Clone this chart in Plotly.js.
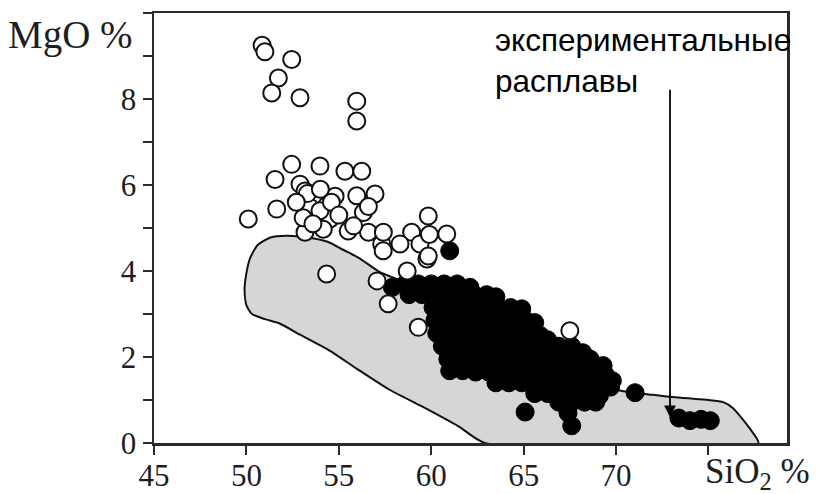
<!DOCTYPE html>
<html>
<head>
<meta charset="utf-8">
<script src="https://cdn.plot.ly/plotly-3.0.1.min.js"></script>
<style>
  html, body { margin: 0; padding: 0; background: #ffffff; }
  #chart { width: 821px; height: 494px; }
</style>
</head>
<body>
<div id="chart"></div>
<script>
// Outline of the field of experimental melts (SiO2 %, MgO %)
const fieldSiO2 = [62.9, 77.7, 77.3, 76.8, 76.3, 75.8, 75.0, 73.5, 72.0, 70.2, 68.5, 66.5, 64.5, 62.5, 60.5, 58.5,
  57.2, 56.1, 55.2, 54.4, 53.3, 52.2, 51.3, 50.6, 50.2, 50.0, 49.9, 50.0, 50.3, 51.0, 51.8, 52.9, 54.5, 56.0, 57.7,
  59.5, 61.5, 62.9];
const fieldMgO = [0.0, 0.0, 0.3, 0.58, 0.82, 0.95, 1.0, 1.05, 1.12, 1.22, 1.5, 1.95, 2.45, 2.9, 3.35, 3.75,
  3.98, 4.3, 4.5, 4.68, 4.78, 4.82, 4.78, 4.6, 4.3, 3.95, 3.55, 3.2, 3.0, 2.88, 2.78, 2.52, 2.15, 1.72, 1.25,
  0.85, 0.38, 0.0];

// Open circles
const openSiO2 = [50.85, 51.0, 52.45, 51.73, 51.37, 52.9, 55.97, 55.97,
  52.45, 53.98, 55.33, 56.24, 51.55, 52.9, 55.97, 56.96, 51.64, 50.1, 53.44, 54.34, 53.8, 54.52, 56.33,
  53.17, 54.16, 55.51, 56.6, 57.32, 54.34, 57.07, 57.67, 59.3, 58.7, 59.77, 67.5,
  59.84, 60.84, 58.94, 58.31, 59.39, 57.41, 57.4, 59.84, 53.17, 54.8, 53.98, 53.07, 59.9,
  53.3, 54.0, 54.6, 55.0, 53.6, 55.8, 56.6, 52.7];
const openMgO = [9.25, 9.1, 8.92, 8.49, 8.14, 8.03, 7.95, 7.49,
  6.48, 6.44, 6.32, 6.32, 6.13, 6.02, 5.75, 5.79, 5.44, 5.21, 5.48, 5.52, 5.17, 5.21, 5.36,
  4.9, 4.97, 4.93, 4.9, 4.63, 3.93, 3.77, 3.24, 2.69, 4.0, 4.28, 2.61,
  5.28, 4.86, 4.9, 4.63, 4.63, 4.9, 4.47, 4.35, 5.86, 5.74, 5.4, 5.24, 4.85,
  5.8, 5.9, 5.6, 5.3, 5.1, 5.05, 5.5, 5.6];

// Filled circles
const meltSiO2 = [61.0,
  57.9, 58.6, 59.3, 60.0, 60.7, 61.4, 62.1,
  58.8, 59.5, 60.2, 60.9, 61.6, 62.3, 63.0, 63.5,
  60.1, 60.8, 61.5, 62.2, 62.9, 63.6, 64.3, 64.9,
  60.2, 60.9, 61.6, 62.3, 63.0, 63.7, 64.4, 65.1, 65.6,
  60.3, 61.0, 61.7, 62.4, 63.1, 63.8, 64.5, 65.2, 65.9, 66.3,
  60.6, 61.3, 62.0, 62.7, 63.4, 64.1, 64.8, 65.5, 66.2, 66.9, 67.6, 68.2,
  60.9, 61.6, 62.3, 63.0, 63.7, 64.4, 65.1, 65.8, 66.5, 67.2, 67.9, 68.6, 69.3,
  61.0, 61.7, 62.4, 63.1, 63.8, 64.5, 65.2, 65.9, 66.6, 67.3, 68.0, 68.7, 69.4, 69.8,
  63.5, 64.2, 64.9, 65.6, 66.3, 67.0, 67.7, 68.4, 69.1, 69.7,
  65.6, 66.3, 67.0, 67.7, 68.4, 69.1,
  66.9, 67.6, 68.3, 68.9,
  67.4, 67.6,
  65.08, 71.03, 73.4, 74.0, 74.6, 75.1];
const meltMgO = [4.47,
  3.62, 3.7, 3.7, 3.7, 3.7, 3.7, 3.62,
  3.45, 3.45, 3.45, 3.45, 3.45, 3.45, 3.45, 3.4,
  3.15, 3.15, 3.15, 3.15, 3.15, 3.15, 3.15, 3.12,
  2.85, 2.85, 2.85, 2.85, 2.85, 2.85, 2.85, 2.85, 2.8,
  2.55, 2.55, 2.55, 2.55, 2.55, 2.55, 2.55, 2.55, 2.5, 2.4,
  2.25, 2.25, 2.25, 2.25, 2.25, 2.25, 2.25, 2.25, 2.25, 2.25, 2.25, 2.1,
  1.95, 1.95, 1.95, 1.95, 1.95, 1.95, 1.95, 1.95, 1.95, 1.95, 1.95, 1.95, 1.8,
  1.68, 1.68, 1.65, 1.65, 1.65, 1.65, 1.65, 1.65, 1.65, 1.65, 1.65, 1.65, 1.6, 1.45,
  1.4, 1.4, 1.4, 1.4, 1.4, 1.4, 1.4, 1.4, 1.4, 1.3,
  1.15, 1.15, 1.15, 1.15, 1.15, 1.1,
  0.95, 0.95, 0.95, 0.95,
  0.7, 0.4,
  0.72, 1.17, 0.58, 0.52, 0.55, 0.52];

const xTicks = [45, 50, 55, 60, 65, 70, 75];
const xTickText = ['45', '50', '55', '60', '65', '70', ''];
const yTicks = [0, 1, 2, 3, 4, 5, 6, 7, 8, 9, 10];
const yTickText = ['0', '', '2', '', '4', '', '6', '', '8', '', ''];

const serif = 'Liberation Serif, Times New Roman, serif';
const ink = '#1e1e1e';

const traces = [
  {
    type: 'scatter', mode: 'lines',
    x: fieldSiO2, y: fieldMgO,
    fill: 'toself', fillcolor: '#d6d6d6',
    line: { color: '#111', width: 2, shape: 'spline', smoothing: 0.6 },
    hoverinfo: 'skip'
  },
  {
    type: 'scatter', mode: 'markers',
    x: meltSiO2, y: meltMgO,
    marker: { symbol: 'circle', size: 18, color: '#000', line: { color: '#000', width: 1 } }
  },
  {
    type: 'scatter', mode: 'markers',
    x: openSiO2, y: openMgO,
    marker: { symbol: 'circle', size: 17, color: '#fff', line: { color: '#111', width: 2 } }
  }
];

const axisCommon = {
  showgrid: false, zeroline: false,
  showline: true, linecolor: '#2a2a2a', linewidth: 2.5, mirror: true,
  ticks: 'outside', ticklen: 9, tickwidth: 2, tickcolor: '#2a2a2a',
  tickfont: { family: serif, size: 31, color: ink },
  fixedrange: true
};

const layout = {
  width: 821, height: 494,
  margin: { l: 154, r: 34, t: 13, b: 51 },
  paper_bgcolor: '#ffffff', plot_bgcolor: '#ffffff',
  showlegend: false,
  xaxis: Object.assign({}, axisCommon, {
    range: [45, 79.25], tickmode: 'array', tickvals: xTicks, ticktext: xTickText,
    ticklabelstandoff: -6
  }),
  yaxis: Object.assign({}, axisCommon, {
    range: [0, 10], tickmode: 'array', tickvals: yTicks, ticktext: yTickText
  }),
  annotations: [
    {
      xref: 'paper', yref: 'paper', x: -0.03, y: 0.95,
      xanchor: 'right', yanchor: 'middle', showarrow: false,
      text: 'MgO %', font: { family: serif, size: 39, color: ink }
    },
    {
      xref: 'paper', yref: 'paper', x: 0.867, y: -0.07,
      xanchor: 'left', yanchor: 'middle', showarrow: false,
      text: 'SiO<sub>2</sub> %', font: { family: serif, size: 35, color: ink }
    },
    {
      xref: 'x', yref: 'paper', x: 63.34, y: 0.983,
      xanchor: 'left', yanchor: 'top', align: 'left', showarrow: false,
      text: 'экспериментальные<br>расплавы',
      font: { family: 'Liberation Sans, Arial, sans-serif', size: 31.5, color: '#000' }
    },
    {
      xref: 'x', yref: 'y', axref: 'x', ayref: 'y',
      x: 72.92, y: 0.6, ax: 72.92, ay: 8.25,
      showarrow: true, arrowhead: 2, arrowsize: 1.3, arrowwidth: 1.8, arrowcolor: '#000',
      text: ''
    }
  ]
};

Plotly.newPlot('chart', traces, layout, { displayModeBar: false, staticPlot: true });
</script>
</body>
</html>
